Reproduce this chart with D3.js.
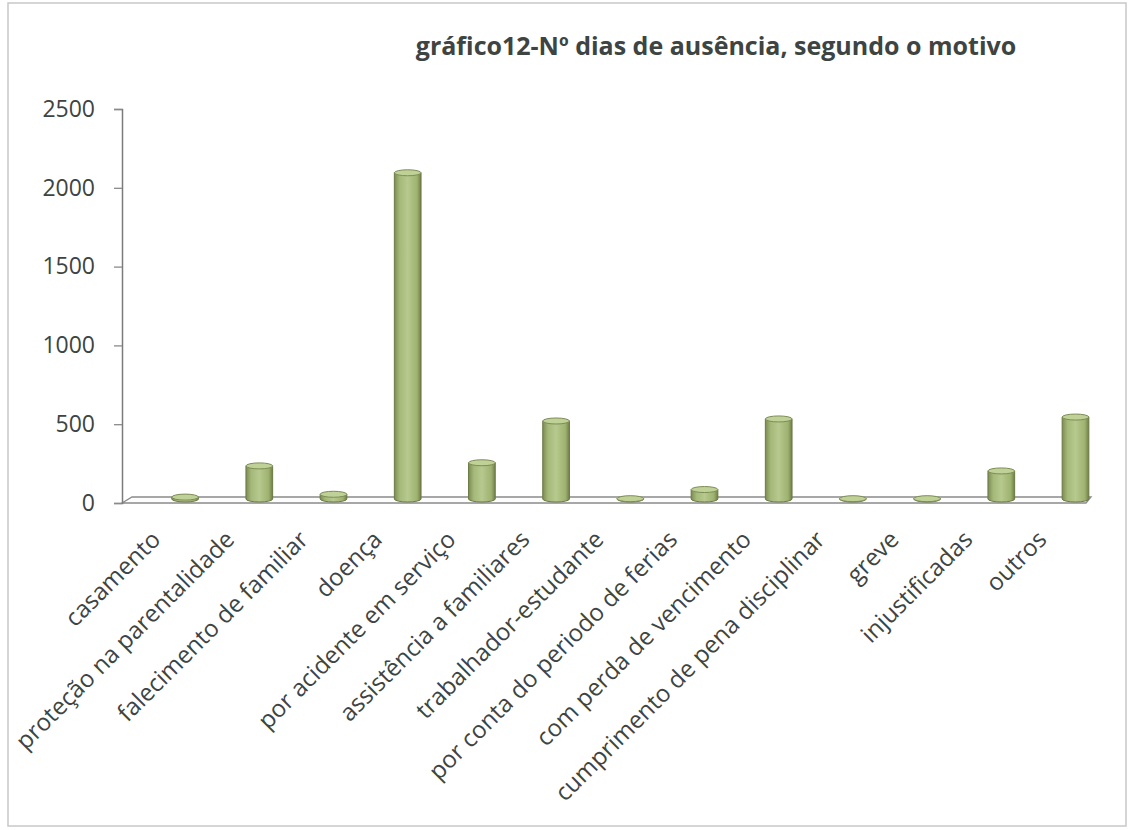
<!DOCTYPE html>
<html>
<head>
<meta charset="utf-8">
<script src="https://cdn.jsdelivr.net/npm/d3@7"></script>
<style>
  body { margin: 0; background: #fff; }
  svg { display: block; }
  text { font-family: "Open Sans", sans-serif; fill: #3d4442; }
</style>
</head>
<body>
<svg id="chart" width="1130" height="830"></svg>
<script>
const W = 1130, H = 830;

// data
const categories = [
  "casamento", "proteção na parentalidade", "falecimento de familiar", "doença",
  "por acidente em serviço", "assistência a familiares", "trabalhador-estudante",
  "por conta do periodo de ferias", "com perda de vencimento",
  "cumprimento de pena disciplinar", "greve", "injustificadas", "outros"
];
const values = [12, 210, 30, 2070, 230, 495, 2, 60, 508, 2, 2, 178, 520];
const yTicks = [0, 500, 1000, 1500, 2000, 2500];
const title = "gráfico12-Nº dias de ausência, segundo o motivo";

const svg = d3.select("#chart");

// frame
svg.append("rect")
  .attr("x", 8).attr("y", 3)
  .attr("width", W - 12).attr("height", H - 7)
  .attr("fill", "none")
  .attr("stroke", "#c8c8c8")
  .attr("stroke-width", 1.5);

svg.append("text")
  .attr("x", 716).attr("y", 55)
  .attr("text-anchor", "middle")
  .style("font-size", "25px")
  .style("font-weight", "bold")
  .text(title);

const y = d3.scaleLinear().domain([0, 2500]).range([503, 109]);

// bars are drawn in perspective, the labels sit on the front edge
const x = d3.scaleBand().domain(categories).range([148, 148 + 13 * 74.2]).paddingInner(0.64).paddingOuter(0.32);
const xl = d3.scalePoint().domain(categories).range([163, 1049]);

const defs = svg.append("defs");
const grad = defs.append("linearGradient").attr("id", "barGrad");
grad.selectAll("stop")
  .data([["0%", "#7d8c52"], ["20%", "#a5b97a"], ["50%", "#b7c98e"], ["85%", "#9eb270"], ["100%", "#6f7e46"]])
  .enter().append("stop")
  .attr("offset", d => d[0])
  .attr("stop-color", d => d[1]);

// floor
svg.append("path")
  .attr("d", `M122,503 L132,497 L1091,497 L1086,503 Z`)
  .attr("fill", "#fdfdfd")
  .attr("stroke", "#8a8a8a")
  .attr("stroke-width", 1.3);

// y axis
const yAxis = svg.append("g")
  .attr("transform", "translate(122,0)")
  .call(d3.axisLeft(y).tickValues(yTicks).tickSize(8).tickPadding(19).tickFormat(d3.format("d")));
yAxis.select(".domain").attr("stroke", "#7b7b7b").attr("stroke-width", 1.5);
yAxis.selectAll(".tick line").attr("stroke", "#8a8a8a").attr("stroke-width", 1.3);
yAxis.selectAll(".tick text")
  .style("font-size", "23px")
  .style("font-family", "'Open Sans', sans-serif")
  .attr("fill", "#3d4442");

// bars (cylinders): cap sits 4px above the value, base ellipse on the floor
const bw = x.bandwidth();
const capR = 3;
const lift = 4;
const bars = svg.append("g").selectAll("g")
  .data(categories.map((c, i) => ({ c, v: values[i] })))
  .enter().append("g");

bars.append("path")
  .attr("d", d => {
    const x0 = x(d.c), x1 = x0 + bw;
    const top = y(d.v) - lift, bot = y(0) - lift;
    return `M${x0},${top} L${x0},${bot} A${bw / 2},${capR} 0 0 0 ${x1},${bot} L${x1},${top} Z`;
  })
  .attr("fill", "url(#barGrad)")
  .attr("stroke", "#6b7a45")
  .attr("stroke-width", 1);

bars.append("ellipse")
  .attr("cx", d => x(d.c) + bw / 2)
  .attr("cy", d => y(d.v) - lift)
  .attr("rx", bw / 2)
  .attr("ry", capR)
  .attr("fill", "#c0d197")
  .attr("stroke", "#7d8c55")
  .attr("stroke-width", 1);

// category labels
svg.append("g").selectAll("text")
  .data(categories)
  .enter().append("text")
  .attr("transform", d => `translate(${xl(d) - 1},541) rotate(-45)`)
  .attr("text-anchor", "end")
  .style("font-size", "24px")
  .text(d => d);
</script>
</body>
</html>
